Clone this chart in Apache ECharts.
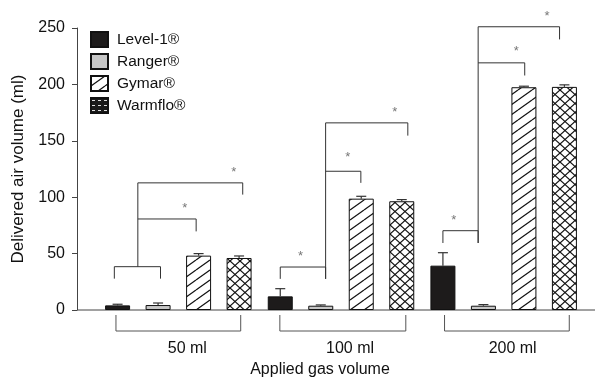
<!DOCTYPE html>
<html>
<head>
<meta charset="utf-8">
<script src="https://cdn.jsdelivr.net/npm/echarts@6/dist/echarts.min.js"></script>
<style>
    html, body { margin: 0; padding: 0; background: #fff; }
    #main { width: 595px; height: 385px; }
</style>
</head>
<body>
<div id="main"></div>
<script>
// data (ml)
var groups = ['50 ml', '100 ml', '200 ml'];
var devices = ['Level-1®', 'Ranger®', 'Gymar®', 'Warmflo®'];
var level1Mean = [4.1, 12.1, 39.3];
var level1Err = [1.0, 6.8, 11.5];
var rangerMean = [4.4, 3.8, 3.8];
var rangerErr = [1.8, 0.7, 1.0];
var gymarMean = [48.2, 98.7, 197.5];
var gymarErr = [1.8, 2.1, 0.9];
var warmfloMean = [46.1, 96.4, 197.8];
var warmfloErr = [1.8, 1.5, 1.8];
var yMin = 0, yMax = 250, yStep = 50;

// significance brackets: [group, from bar slot, to bar slot, level, left leg end, right leg end]
var brackets = [
    [0, -0.08, 1.06, 38.4, 27.8, 27.8],
    [0, 0.5, 1.94, 80.7, 80.7, 69.7],
    [0, 0.5, 3.09, 112.7, 38.4, 102.3],
    [1, 0, 1.12, 38.1, 27.6, 27.6],
    [1, 1.12, 1.99, 123.0, 123.0, 112.7],
    [1, 1.12, 3.15, 165.9, 27.6, 154.6],
    [2, 0, 0.87, 70.3, 59.4, 59.4],
    [2, 0.87, 2.02, 219.1, 219.1, 207.9],
    [2, 0.87, 2.88, 251.1, 59.4, 239.9]
];
// asterisks: [group, bar slot, value]
var stars = [
    [0, 1.66, 92.5], [0, 2.87, 124.5],
    [1, 0.5, 50.0], [1, 1.67, 137.8], [1, 2.83, 177.7],
    [2, 0.27, 82.2], [2, 1.81, 231.5], [2, 2.57, 262.9]
];
// group brackets under the axis: [group, from slot, to slot]
var groupSpans = [[0, -0.04, 3.04], [1, -0.01, 3.1], [2, 0.04, 3.12]];

var BAR_W = 25;
var BAR_GAP = 0.62;
var STEP = BAR_W * (1 + BAR_GAP);
var FONT = 'Liberation Sans, Arial, sans-serif';

function makeHatch(w, h, cross) {
    var c = document.createElement('canvas');
    c.width = w;
    c.height = h;
    var ctx = c.getContext('2d');
    ctx.fillStyle = '#fff';
    ctx.fillRect(0, 0, w, h);
    ctx.strokeStyle = '#111';
    ctx.lineWidth = 1.2;
    for (var n = -1; n <= 1; n++) {
        ctx.beginPath();
        ctx.moveTo(0, h + n * h);
        ctx.lineTo(w, n * h);
        ctx.stroke();
        if (cross) {
            ctx.beginPath();
            ctx.moveTo(0, n * h);
            ctx.lineTo(w, h + n * h);
            ctx.stroke();
        }
    }
    return c;
}

function makeDots() {
    var c = document.createElement('canvas');
    c.width = 6;
    c.height = 5;
    var ctx = c.getContext('2d');
    ctx.fillStyle = '#1a1a1a';
    ctx.fillRect(0, 0, 6, 5);
    ctx.fillStyle = '#ddd';
    ctx.fillRect(1, 2, 3, 1);
    return c;
}

var fills = [
    '#1d1b1b',
    '#c6c6c6',
    { image: makeHatch(14, 10, false), repeat: 'repeat' },
    { image: makeHatch(10, 9, true), repeat: 'repeat' }
];
var means = [level1Mean, rangerMean, gymarMean, warmfloMean];
var errs = [level1Err, rangerErr, gymarErr, warmfloErr];

var series = [];
devices.forEach(function (name, k) {
    series.push({
        name: name,
        type: 'bar',
        barWidth: BAR_W,
        barGap: (BAR_GAP * 100) + '%',
        itemStyle: { color: fills[k], borderColor: '#111', borderWidth: 1 },
        data: means[k]
    });
});

// error bars (upper only)
devices.forEach(function (name, k) {
    series.push({
        type: 'custom',
        z: 3,
        silent: true,
        data: means[k].map(function (m, i) { return [i, m, m + errs[k][i]]; }),
        renderItem: function (params, api) {
            var p0 = api.coord([api.value(0), api.value(1)]);
            var p1 = api.coord([api.value(0), api.value(2)]);
            var x = p0[0] + (k - 1.5) * STEP;
            var st = { stroke: '#333', lineWidth: 1.2 };
            return {
                type: 'group',
                children: [
                    { type: 'line', shape: { x1: x, y1: p0[1], x2: x, y2: p1[1] }, style: st },
                    { type: 'line', shape: { x1: x - 5, y1: p1[1], x2: x + 5, y2: p1[1] }, style: st }
                ]
            };
        }
    });
});

series.push({
    type: 'custom',
    silent: true,
    clip: false,
    data: brackets,
    encode: { x: 0, y: 3 },
    renderItem: function (params, api) {
        var g = api.value(0);
        var c = api.coord([g, api.value(3)]);
        var x1 = c[0] + (api.value(1) - 1.5) * STEP;
        var x2 = c[0] + (api.value(2) - 1.5) * STEP;
        var yl = api.coord([g, api.value(4)])[1];
        var yr = api.coord([g, api.value(5)])[1];
        return {
            type: 'polyline',
            shape: { points: [[x1, yl], [x1, c[1]], [x2, c[1]], [x2, yr]] },
            style: { stroke: '#333', lineWidth: 1, fill: null }
        };
    }
});

series.push({
    type: 'custom',
    silent: true,
    clip: false,
    data: stars,
    encode: { x: 0, y: 2 },
    renderItem: function (params, api) {
        var c = api.coord([api.value(0), api.value(2)]);
        return {
            type: 'text',
            x: c[0] + (api.value(1) - 1.5) * STEP,
            y: c[1] + 3,
            style: { text: '*', fill: '#777', font: '13px ' + FONT, align: 'center', verticalAlign: 'middle' }
        };
    }
});

series.push({
    type: 'custom',
    silent: true,
    clip: false,
    data: groupSpans.map(function (s) { return [s[0], s[1], s[2], 0]; }),
    encode: { x: 0, y: 3 },
    renderItem: function (params, api) {
        var c = api.coord([api.value(0), 0]);
        var x1 = c[0] + (api.value(1) - 1.5) * STEP;
        var x2 = c[0] + (api.value(2) - 1.5) * STEP;
        var yTop = c[1] + 5, yBot = c[1] + 21;
        return {
            type: 'polyline',
            shape: { points: [[x1, yTop], [x1, yBot], [x2, yBot], [x2, yTop]] },
            style: { stroke: '#555', lineWidth: 1, fill: null }
        };
    }
});

var chart = echarts.init(document.getElementById('main'));
var option = {
    animation: false,
    backgroundColor: '#fff',
    textStyle: { fontFamily: FONT },
    legend: {
        orient: 'vertical',
        left: 90,
        top: 31,
        padding: 0,
        icon: 'rect',
        itemWidth: 17,
        itemHeight: 15,
        itemGap: 5,
        textStyle: { fontSize: 15.5, color: '#111', padding: [0, 0, 0, 4] },
        data: [
            devices[0],
            devices[1],
            devices[2],
            { name: devices[3], itemStyle: { color: { image: makeDots(), repeat: 'repeat' } } }
        ]
    },
    grid: { left: 97, right: 10, top: 28, bottom: 75 },
    xAxis: {
        type: 'category',
        data: groups,
        axisLine: { show: false },
        axisTick: { show: false },
        axisLabel: { fontSize: 16, color: '#111', margin: 31, padding: [0, 0, 0, 18] },
        name: 'Applied gas volume',
        nameLocation: 'middle',
        nameGap: 52,
        nameTextStyle: { fontSize: 16, color: '#111', padding: [0, 42, 0, 0] }
    },
    yAxis: {
        type: 'value',
        min: yMin,
        max: yMax,
        interval: yStep,
        offset: 20,
        axisLine: { show: true, lineStyle: { color: '#444' } },
        axisTick: { show: true, length: 5, lineStyle: { color: '#444' } },
        axisLabel: { fontSize: 16, color: '#111', margin: 12 },
        splitLine: { show: false },
        name: 'Delivered air volume (ml)',
        nameLocation: 'middle',
        nameGap: 50,
        nameTextStyle: { fontSize: 17, color: '#111' }
    },
    series: series
};
chart.setOption(option);

// baseline runs from the y axis to the right edge
var y0 = chart.convertToPixel({ yAxisIndex: 0 }, 0);
chart.setOption({
    graphic: [{
        type: 'line',
        shape: { x1: 77, y1: y0, x2: 595, y2: y0 },
        style: { stroke: '#444', lineWidth: 1 },
        z: 1
    }]
});
</script>
</body>
</html>
